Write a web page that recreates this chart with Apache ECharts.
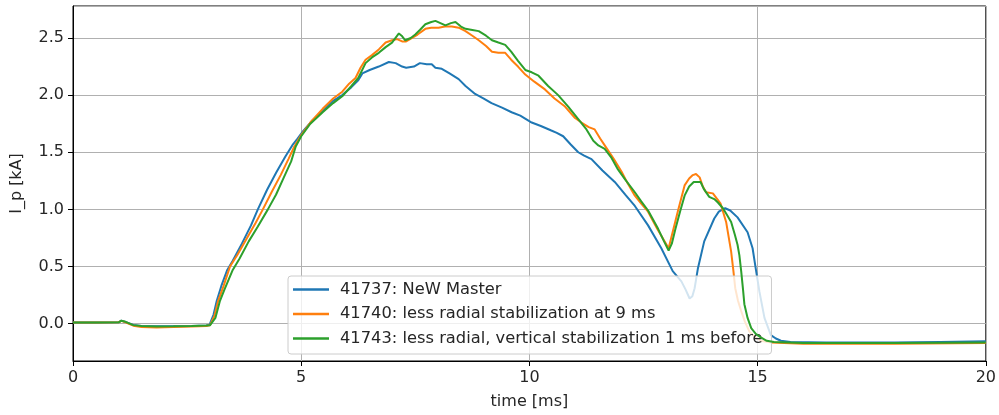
<!DOCTYPE html>
<html>
<head>
<meta charset="utf-8">
<script src="https://cdn.jsdelivr.net/npm/echarts@6/dist/echarts.min.js"></script>
<style>
  html, body { margin: 0; padding: 0; background: #fff; }
  #chart { width: 999px; height: 415px; }
</style>
</head>
<body>
<div id="chart"></div>
<script>
// Plasma current I_p [kA] versus time [ms] for three discharges, sampled as [t, I] pairs.
const seriesNames = [
  '41737: NeW Master',
  '41740: less radial stabilization at 9 ms',
  '41743: less radial, vertical stabilization 1 ms before'
];
const seriesColors = ['#1f77b4', '#ff7f0e', '#2ca02c'];

const shot41737 = [
  [0,0.01],[0.5,0.01],[1.0,0.012],[1.06,0.026],[1.15,0.015],[1.32,-0.012],[1.5,-0.02],[1.83,-0.023],[2.2,-0.022],[2.6,-0.02],[2.92,-0.016],[2.99,-0.01],
  [3.08,0.08],[3.15,0.2],[3.25,0.33],[3.38,0.47],[3.5,0.55],[3.7,0.7],[3.9,0.86],[4.05,1.0],[4.25,1.17],[4.45,1.32],[4.65,1.46],[4.82,1.57],
  [4.92,1.62],[5.05,1.69],[5.25,1.78],[5.47,1.86],[5.7,1.95],[5.9,2.0],[6.1,2.07],[6.25,2.13],[6.34,2.19],[6.5,2.22],[6.7,2.25],[6.92,2.29],
  [7.07,2.28],[7.21,2.25],[7.3,2.24],[7.47,2.25],[7.6,2.28],[7.75,2.27],[7.86,2.27],[7.94,2.24],[8.08,2.23],[8.25,2.19],[8.45,2.14],[8.6,2.08],
  [8.81,2.01],[9.0,1.97],[9.17,1.93],[9.4,1.89],[9.61,1.85],[9.8,1.82],[10.05,1.76],[10.25,1.73],[10.48,1.69],[10.6,1.67],[10.74,1.64],
  [10.9,1.57],[11.07,1.5],[11.2,1.47],[11.36,1.44],[11.6,1.34],[11.87,1.24],[12.1,1.13],[12.31,1.03],[12.6,0.86],[12.89,0.66],[13.14,0.46],
  [13.33,0.37],[13.42,0.3],[13.51,0.22],[13.57,0.24],[13.62,0.31],[13.69,0.48],[13.83,0.72],[14.05,0.92],[14.15,0.98],[14.29,1.01],[14.4,0.99],
  [14.56,0.93],[14.78,0.8],[14.89,0.66],[14.96,0.48],[15.04,0.28],[15.15,0.05],[15.29,-0.1],[15.4,-0.13],[15.51,-0.15],[15.72,-0.16],
  [16.5,-0.165],[18,-0.165],[19,-0.16],[20,-0.155]
];

const shot41740 = [
  [0,0.01],[0.5,0.01],[1.0,0.012],[1.06,0.024],[1.15,0.012],[1.32,-0.018],[1.5,-0.03],[1.83,-0.034],[2.2,-0.03],[2.6,-0.026],[2.92,-0.02],[3.0,-0.015],
  [3.1,0.07],[3.18,0.2],[3.3,0.33],[3.44,0.5],[3.6,0.6],[3.8,0.74],[4.0,0.88],[4.16,1.0],[4.35,1.15],[4.55,1.3],[4.72,1.44],[4.85,1.55],
  [5.0,1.65],[5.2,1.76],[5.47,1.88],[5.7,1.97],[5.9,2.03],[6.05,2.1],[6.19,2.15],[6.3,2.24],[6.41,2.31],[6.55,2.35],[6.7,2.4],[6.85,2.46],
  [6.99,2.48],[7.1,2.49],[7.21,2.47],[7.3,2.47],[7.43,2.5],[7.55,2.53],[7.72,2.58],[7.85,2.59],[8.01,2.59],[8.15,2.6],[8.3,2.6],[8.45,2.59],
  [8.6,2.56],[8.75,2.52],[8.89,2.48],[9.05,2.43],[9.18,2.38],[9.32,2.37],[9.47,2.37],[9.6,2.31],[9.75,2.25],[9.91,2.18],[10.1,2.12],
  [10.34,2.05],[10.55,1.97],[10.78,1.9],[11.0,1.8],[11.14,1.76],[11.3,1.72],[11.43,1.7],[11.55,1.62],[11.65,1.56],[11.85,1.44],[12.02,1.33],
  [12.15,1.23],[12.31,1.12],[12.45,1.05],[12.6,0.98],[12.8,0.83],[13.05,0.66],[13.15,0.82],[13.25,0.98],[13.4,1.21],[13.5,1.27],[13.58,1.3],
  [13.65,1.31],[13.73,1.28],[13.8,1.2],[13.87,1.15],[14.02,1.14],[14.19,1.05],[14.31,0.89],[14.42,0.63],[14.47,0.46],[14.51,0.31],[14.57,0.2],
  [14.64,0.11],[14.72,0.02],[14.82,-0.07],[14.95,-0.12],[15.07,-0.15],[15.3,-0.165],[16,-0.175],[18,-0.175],[20,-0.17]
];

const shot41743 = [
  [0,0.01],[0.5,0.01],[1.0,0.012],[1.06,0.026],[1.15,0.016],[1.32,-0.013],[1.5,-0.021],[1.83,-0.024],[2.2,-0.023],[2.6,-0.021],[2.92,-0.017],[3.0,-0.015],
  [3.12,0.05],[3.22,0.2],[3.32,0.3],[3.5,0.47],[3.65,0.57],[3.85,0.72],[4.05,0.85],[4.27,1.0],[4.45,1.13],[4.62,1.28],[4.78,1.42],[4.88,1.55],
  [5.0,1.64],[5.2,1.75],[5.47,1.85],[5.7,1.93],[5.9,1.99],[6.1,2.08],[6.25,2.15],[6.41,2.28],[6.55,2.33],[6.7,2.37],[6.85,2.42],[6.99,2.46],
  [7.14,2.54],[7.2,2.52],[7.28,2.48],[7.4,2.5],[7.5,2.53],[7.6,2.57],[7.72,2.62],[7.85,2.64],[7.94,2.65],[8.05,2.63],[8.16,2.61],[8.28,2.63],
  [8.38,2.64],[8.5,2.6],[8.6,2.58],[8.75,2.57],[8.89,2.56],[9.05,2.52],[9.18,2.48],[9.32,2.46],[9.47,2.44],[9.6,2.38],[9.75,2.3],[9.91,2.22],
  [10.05,2.2],[10.2,2.17],[10.41,2.08],[10.63,2.0],[10.85,1.9],[11.07,1.79],[11.25,1.7],[11.4,1.6],[11.51,1.56],[11.65,1.53],[11.8,1.45],
  [11.94,1.35],[12.1,1.26],[12.31,1.15],[12.45,1.07],[12.6,0.99],[12.82,0.83],[12.95,0.72],[13.05,0.64],[13.12,0.7],[13.2,0.83],[13.3,0.98],
  [13.4,1.12],[13.5,1.2],[13.6,1.24],[13.75,1.24],[13.82,1.18],[13.94,1.11],[14.05,1.09],[14.13,1.06],[14.24,1.01],[14.33,0.95],[14.42,0.89],
  [14.5,0.78],[14.56,0.69],[14.6,0.6],[14.64,0.46],[14.68,0.3],[14.71,0.17],[14.78,0.05],[14.86,-0.04],[14.96,-0.09],[15.07,-0.12],
  [15.2,-0.15],[15.36,-0.16],[16,-0.17],[18,-0.17],[20,-0.165]
];

const xTicks = [0, 5, 10, 15, 20];
const yTicks = [0.0, 0.5, 1.0, 1.5, 2.0, 2.5];

const FONT = 'DejaVu Sans';
const TEXT = '#262626';

const chart = echarts.init(document.getElementById('chart'), null, { renderer: 'canvas' });

const data = [shot41737, shot41740, shot41743];

chart.setOption({
  animation: false,
  backgroundColor: '#ffffff',
  textStyle: { fontFamily: FONT },
  grid: {
    left: 73, right: 10, top: 6, bottom: 52,
    show: true, borderColor: '#000', borderWidth: 1, backgroundColor: 'transparent'
  },
  legend: {
    orient: 'vertical',
    left: 288, top: 276,
    padding: [4, 9, 6, 5],
    icon: 'rect',
    itemWidth: 36, itemHeight: 2.5, itemGap: 5.5,
    backgroundColor: 'rgba(255,255,255,0.8)',
    borderColor: '#cccccc', borderWidth: 1, borderRadius: 3,
    textStyle: { fontFamily: FONT, fontSize: 16.3, color: TEXT, lineHeight: 19, padding: [0, 0, 0, 6] },
    data: seriesNames
  },
  xAxis: {
    type: 'value',
    min: xTicks[0], max: xTicks[xTicks.length - 1], interval: 5,
    name: 'time [ms]', nameLocation: 'middle', nameGap: 33,
    nameTextStyle: { fontFamily: FONT, fontSize: 16, color: TEXT },
    axisLine: { show: true, onZero: false, lineStyle: { color: '#000', width: 1 } },
    axisTick: { show: true, inside: false, length: 5, lineStyle: { color: '#000' } },
    axisLabel: { fontFamily: FONT, fontSize: 16, color: TEXT, margin: 9 },
    splitLine: { show: true, lineStyle: { color: '#b0b0b0', width: 1 } }
  },
  yAxis: {
    type: 'value',
    min: -0.327, max: 2.78,
    splitNumber: 6,
    name: 'I_p [kA]', nameLocation: 'middle', nameGap: 48, nameRotate: 90,
    nameTextStyle: { fontFamily: FONT, fontSize: 16, color: TEXT },
    axisLine: { show: true, onZero: false, lineStyle: { color: '#000', width: 1 } },
    axisTick: { show: true, inside: false, length: 5, lineStyle: { color: '#000' } },
    axisLabel: {
      fontFamily: FONT, fontSize: 16, color: TEXT, margin: 9,
      showMinLabel: false, showMaxLabel: false,
      formatter: v => (yTicks.some(t => Math.abs(t - v) < 1e-6) ? v.toFixed(1) : '')
    },
    splitLine: { show: true, lineStyle: { color: '#b0b0b0', width: 1 } }
  },
  series: data.map((d, i) => ({
    name: seriesNames[i],
    type: 'line',
    data: d,
    symbol: 'none',
    smooth: false,
    clip: true,
    lineStyle: { color: seriesColors[i], width: 2 },
    itemStyle: { color: seriesColors[i] },
    z: 2 + i
  }))
});
</script>
</body>
</html>
